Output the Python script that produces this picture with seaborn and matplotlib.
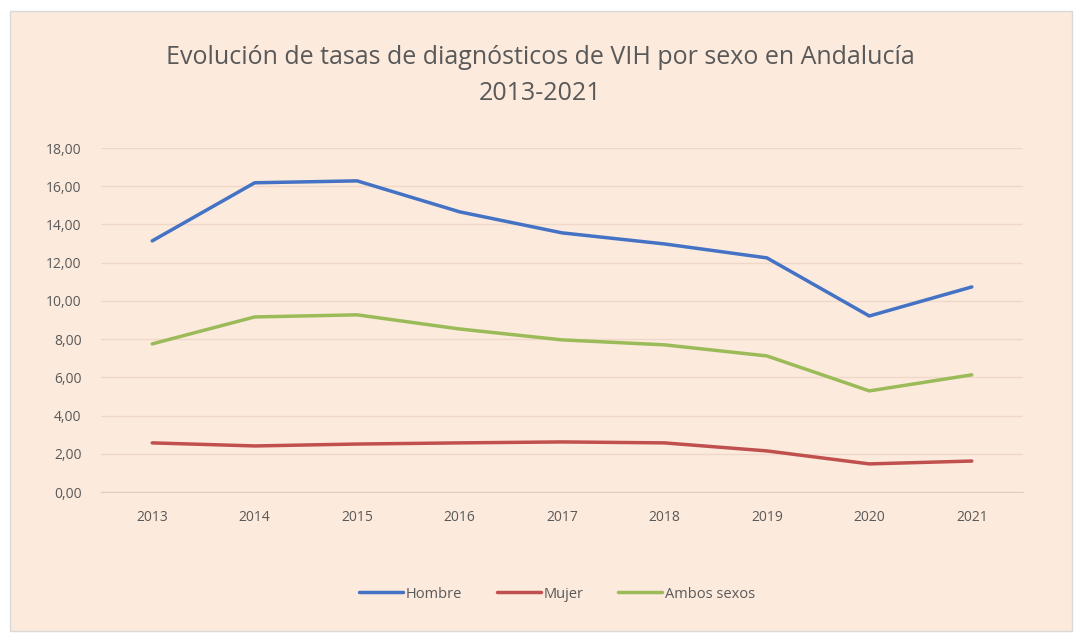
import pandas
import seaborn
import matplotlib.pyplot as plt
from matplotlib.patches import Rectangle

# Data
years = ['2013', '2014', '2015', '2016', '2017', '2018', '2019', '2020', '2021']
hombre = [13.14, 16.18, 16.28, 14.66, 13.56, 12.98, 12.25, 9.21, 10.73]
mujer = [2.57, 2.41, 2.51, 2.57, 2.62, 2.57, 2.15, 1.47, 1.62]
ambos = [7.75, 9.16, 9.27, 8.53, 7.96, 7.70, 7.12, 5.29, 6.13]
series_names = ['Hombre', 'Mujer', 'Ambos sexos']
colors = ['#4472C4', '#C0504D', '#9BBB59']

data = pandas.DataFrame({
    'year': years * 3,
    'value': hombre + mujer + ambos,
    'serie': [s for s in series_names for _ in years],
})

seaborn.set_style('white')
plt.rcParams['font.family'] = ['Open Sans', 'DejaVu Sans']

bg = '#FCEADD'
text_color = '#595959'

fig = plt.figure(figsize=(10.8, 6.43), dpi=100, facecolor='white')
frame = Rectangle((10 / 1080, 12 / 643), 1062 / 1080, 620 / 643,
                  transform=fig.transFigure, facecolor=bg,
                  edgecolor='#D9D9D9', linewidth=1, zorder=-5)
fig.patches.append(frame)

ax = fig.add_axes([101 / 1080, 1 - 492 / 643, 922 / 1080, 344 / 643])
ax.set_facecolor(bg)
ax.set_zorder(2)

seaborn.lineplot(data=data, x='year', y='value', hue='serie',
                 palette=colors, hue_order=series_names,
                 linewidth=2.5, ax=ax, sort=False)

ax.set_xlim(-0.5, len(years) - 0.5)
ax.set_ylim(0, 18)
ax.set_yticks(range(0, 19, 2))
ax.set_yticklabels([f'{v},00' for v in range(0, 19, 2)])
ax.grid(axis='y', color='#F0D8C8', linewidth=1)
ax.set_axisbelow(True)
for side in ['top', 'right', 'left']:
    ax.spines[side].set_visible(False)
ax.spines['bottom'].set_color('#E3CDBF')
ax.tick_params(axis='both', colors=text_color, labelsize=10, length=0)
ax.tick_params(axis='x', pad=13)
ax.tick_params(axis='y', pad=14)
ax.set_xlabel('')
ax.set_ylabel('')

fig.text(0.5, 1 - 57 / 643, 'Evolución de tasas de diagnósticos de VIH por sexo en Andalucía',
         ha='center', va='center', fontsize=18, color=text_color)
fig.text(0.5, 1 - 93 / 643, '2013-2021',
         ha='center', va='center', fontsize=18, color=text_color)

handles, labels = ax.get_legend_handles_labels()
ax.legend(handles, labels, loc='center', bbox_to_anchor=(557 / 1080, 1 - 594 / 643),
          bbox_transform=fig.transFigure, ncol=3, frameon=False,
          fontsize=10.5, labelcolor=text_color, handlelength=3.0,
          handletextpad=0.2, columnspacing=2.4)

fig.savefig('out.png', dpi=100, facecolor='white')
